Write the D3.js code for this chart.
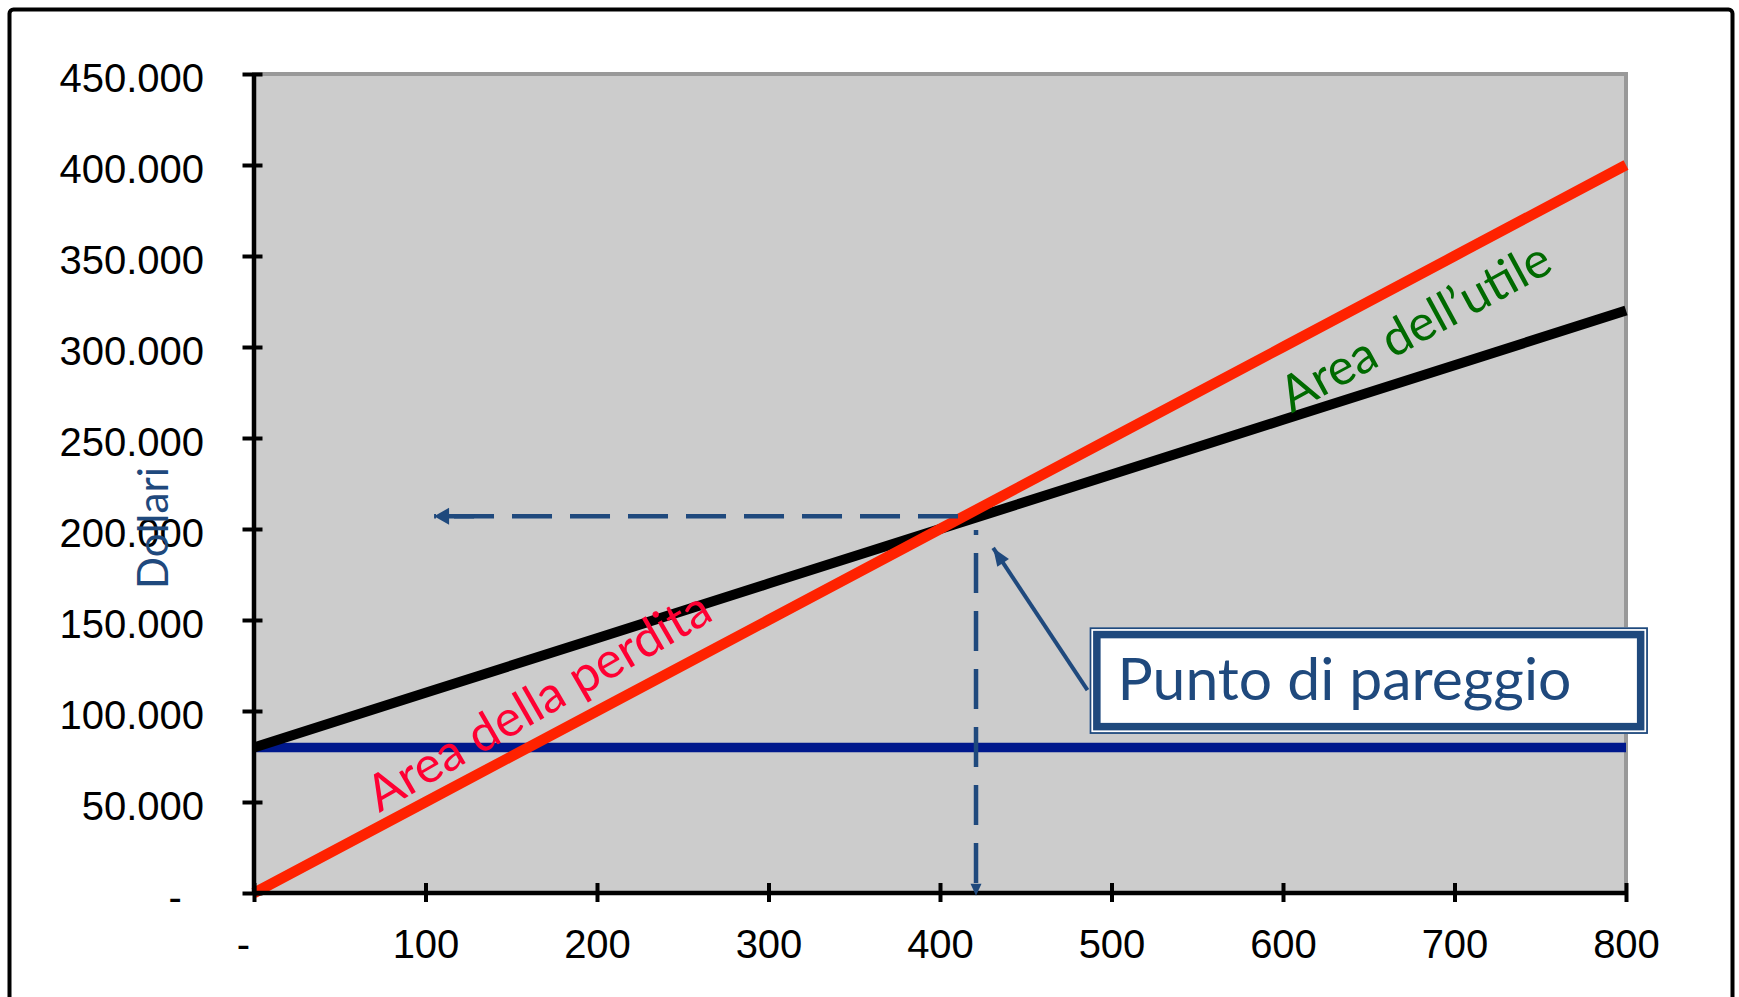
<!DOCTYPE html>
<html><head><meta charset="utf-8">
<script src="https://cdn.jsdelivr.net/npm/d3@7"></script>
<style>
html,body{margin:0;padding:0;background:#fff;}
svg{display:block;}
</style></head>
<body>
<svg id="chart" width="1739" height="997"></svg>
<script>
// ---- data ----
const units      = [0, 100, 200, 300, 400, 500, 600, 700, 800];
const revenue    = [0, 50000, 100000, 150000, 200000, 250000, 300000, 350000, 400000];
const totalCost  = [80000, 110000, 140000, 170000, 200000, 230000, 260000, 290000, 320000];
const fixedCost  = [80000, 80000, 80000, 80000, 80000, 80000, 80000, 80000, 80000];
const xTicks      = [0, 100, 200, 300, 400, 500, 600, 700, 800];
const xTickLabels = ["-  ", "100", "200", "300", "400", "500", "600", "700", "800"];
const yTicks      = [0, 50000, 100000, 150000, 200000, 250000, 300000, 350000, 400000, 450000];
const yTickLabels = ["-  ", "50.000", "100.000", "150.000", "200.000", "250.000", "300.000", "350.000", "400.000", "450.000"];
const yTitle = "Dollari";
const lossLabel = "Area della perdita";
const profitLabel = "Area dell\u2019utile";
const calloutLabel = "Punto di pareggio";
// annotation anchor points (data units)
const guideH   = [[410.5, 207000], [105, 207000]];
const guideV   = [[421, 199500], [421, -1500]];
const callout  = [[486, 111500], [431, 189600]];
const calloutBox = [[487.2, 146000], [812.8, 87400]];
const lossPos   = [73, 44000];
const profitPos = [605, 263500];

// ---- layout ----
const W = 1739, H = 997;
const margin = {top: 74, right: 113, bottom: 104, left: 254};
const iw = W - margin.left - margin.right;
const ih = H - margin.top - margin.bottom;
const svg = d3.select("#chart");
const annBlue = "#1f497d";

svg.append("rect").attr("x", 9.5).attr("y", 9.5).attr("width", 1723).attr("height", 1010)
  .attr("rx", 4).attr("fill", "#fff").attr("stroke", "#000").attr("stroke-width", 4);

const x = d3.scaleLinear().domain([0, 800]).range([0, iw]);
const y = d3.scaleLinear().domain([0, 450000]).range([ih, 0]);

const defs = svg.append("defs");
defs.append("marker").attr("id", "dashArrow").attr("markerUnits", "userSpaceOnUse")
  .attr("viewBox", "-42 -10 44 20").attr("markerWidth", 44).attr("markerHeight", 20)
  .attr("refX", 0).attr("refY", 0).attr("orient", "auto")
  .append("path").attr("d", "M0,0 L-15,-8.5 L-15,-2.3 L-40,-2.3 L-40,2.3 L-15,2.3 L-15,8.5 Z").attr("fill", annBlue);
defs.append("marker").attr("id", "vArrow").attr("markerUnits", "userSpaceOnUse")
  .attr("viewBox", "-16 -8 18 16").attr("markerWidth", 18).attr("markerHeight", 16)
  .attr("refX", 0).attr("refY", 0).attr("orient", "auto")
  .append("path").attr("d", "M0,0 L-12,-5.5 L-12,5.5 Z").attr("fill", annBlue);
defs.append("marker").attr("id", "callArrow").attr("markerUnits", "userSpaceOnUse")
  .attr("viewBox", "-20 -9 22 18").attr("markerWidth", 22).attr("markerHeight", 18)
  .attr("refX", 0).attr("refY", 0).attr("orient", "auto")
  .append("path").attr("d", "M0,0 L-18,-7 L-18,7 Z").attr("fill", annBlue);

const g = svg.append("g").attr("transform", `translate(${margin.left},${margin.top})`);

g.append("rect").attr("x", 0).attr("y", 0).attr("width", iw).attr("height", ih)
  .attr("fill", "#cccccc").attr("stroke", "#999999").attr("stroke-width", 4);

const line = d3.line().x(d => x(d[0])).y(d => y(d[1]));
const series = [
  {vals: fixedCost, color: "#00188c", w: 9.5},
  {vals: totalCost, color: "#000000", w: 10},
  {vals: revenue,   color: "#ff2200", w: 10.5}
];
series.forEach(s => {
  g.append("path").datum(units.map((u, i) => [u, s.vals[i]]))
    .attr("d", line).attr("fill", "none").attr("stroke", s.color)
    .attr("stroke-width", s.w).attr("stroke-linejoin", "round");
});

// axes
const xAxis = g.append("g").attr("transform", `translate(0,${ih})`)
  .call(d3.axisBottom(x).tickValues(xTicks).tickFormat((d, i) => xTickLabels[i]).tickSize(9).tickPadding(0));
xAxis.select(".domain").attr("stroke", "#000").attr("stroke-width", 4.5).attr("d", `M0,0H${iw}`);
xAxis.selectAll(".tick line").attr("stroke", "#000").attr("stroke-width", 4).attr("y1", -10).attr("y2", 9);
xAxis.selectAll(".tick text").attr("fill", "#000").attr("font-family", "'Liberation Sans', Arial, sans-serif")
  .attr("font-size", 40).attr("y", 37).attr("dy", "0.71em").style("white-space", "pre");

const yAxis = g.append("g")
  .call(d3.axisLeft(y).tickValues(yTicks).tickFormat((d, i) => yTickLabels[i]).tickSize(11).tickPadding(0));
yAxis.select(".domain").attr("stroke", "#000").attr("stroke-width", 4.5).attr("d", `M0,${ih}V0`);
yAxis.selectAll(".tick line").attr("stroke", "#000").attr("stroke-width", 4).attr("x1", -11.5).attr("x2", 8.5);
yAxis.selectAll(".tick text").attr("fill", "#000").attr("font-family", "'Liberation Sans', Arial, sans-serif")
  .attr("font-size", 40).attr("x", -50).attr("dy", "0.44em").style("white-space", "pre");

function fitText(sel, target) {
  const l = sel.node().getComputedTextLength();
  const fs = parseFloat(sel.attr("font-size"));
  sel.attr("font-size", fs * target / l);
}
const calFont = "Lato, 'Open Sans', sans-serif";

// y title
const yt = svg.append("text").attr("transform", `translate(${margin.left - 86},${528}) rotate(-90)`)
  .attr("text-anchor", "middle").attr("font-family", calFont).attr("font-size", 44)
  .attr("fill", annBlue).text(yTitle);
fitText(yt, 122);

// guide lines
g.append("path").datum(guideH).attr("d", line).attr("fill", "none").attr("stroke", annBlue)
  .attr("stroke-width", 4.5).attr("stroke-dasharray", "40 18").attr("marker-end", "url(#dashArrow)");
g.append("path").datum(guideV).attr("d", line).attr("fill", "none").attr("stroke", annBlue)
  .attr("stroke-width", 4.5).attr("stroke-dasharray", "40 18").attr("stroke-dashoffset", 35)
  .attr("marker-end", "url(#vArrow)");
g.append("path").datum(callout).attr("d", line).attr("fill", "none").attr("stroke", annBlue)
  .attr("stroke-width", 4).attr("marker-end", "url(#callArrow)");

// area labels
const lt = g.append("text").attr("transform", `translate(${x(lossPos[0])},${y(lossPos[1])}) rotate(-30)`)
  .attr("font-family", calFont).attr("font-size", 48).attr("fill", "#ff0033").text(lossLabel);
fitText(lt, 388);
const pt = g.append("text").attr("transform", `translate(${x(profitPos[0])},${y(profitPos[1])}) rotate(-28.5)`)
  .attr("font-family", calFont).attr("font-size", 48).attr("fill", "#006a00").text(profitLabel);
fitText(pt, 300);

// callout box
const bx0 = x(calloutBox[0][0]), by0 = y(calloutBox[0][1]);
const bx1 = x(calloutBox[1][0]), by1 = y(calloutBox[1][1]);
const bw = bx1 - bx0, bh = by1 - by0;
g.append("rect").attr("x", bx0).attr("y", by0).attr("width", bw).attr("height", bh).attr("fill", "#fff");
g.append("rect").attr("x", bx0 + 0.9).attr("y", by0 + 0.9).attr("width", bw - 1.8).attr("height", bh - 1.8)
  .attr("fill", "none").attr("stroke", annBlue).attr("stroke-width", 1.8);
g.append("rect").attr("x", bx0 + 7.3).attr("y", by0 + 7.3).attr("width", bw - 14.6).attr("height", bh - 14.6)
  .attr("fill", "none").attr("stroke", annBlue).attr("stroke-width", 7.5);
const ct = g.append("text").attr("x", bx0 + 28).attr("y", by0 + 73)
  .attr("font-family", calFont).attr("font-size", 56).attr("fill", annBlue).text(calloutLabel);
fitText(ct, 454);
</script>
</body></html>
